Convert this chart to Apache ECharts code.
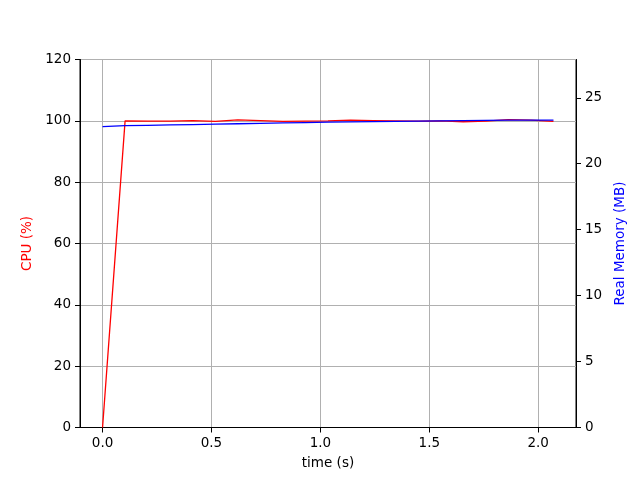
<!DOCTYPE html>
<html><head><meta charset="utf-8">
<script src="https://cdn.jsdelivr.net/npm/echarts@6/dist/echarts.min.js"></script>
<style>html,body{margin:0;padding:0;background:#fff}#c{width:640px;height:480px}</style>
</head><body><div id="c"></div>
<script>
const times = [0, 0.1035, 0.207, 0.3105, 0.414, 0.5175, 0.621, 0.7245, 0.828, 0.9315, 1.035, 1.1385, 1.242, 1.3455, 1.449, 1.5525, 1.656, 1.7595, 1.863, 1.9665, 2.07];
const cpu = [0, 100.0, 99.9, 99.9, 100.1, 99.8, 100.3, 100.1, 99.8, 99.9, 100.0, 100.2, 100.1, 100.0, 99.9, 100.0, 99.7, 99.9, 100.4, 100.2, 99.8];
const memory = [22.81, 22.88, 22.91, 22.94, 22.97, 23.0, 23.03, 23.06, 23.09, 23.12, 23.15, 23.17, 23.19, 23.21, 23.23, 23.25, 23.27, 23.29, 23.31, 23.31, 23.31];
const xTicks = [0, 0.5, 1.0, 1.5, 2.0];
const cpuTicks = [0, 20, 40, 60, 80, 100, 120];
const memTicks = [0, 5, 10, 15, 20, 25];

const font = 'DejaVu Sans';
const chart = echarts.init(document.getElementById('c'), null, {renderer: 'canvas'});
const tickStyle = {show: true, inside: false, length: 5, lineStyle: {color: '#000', width: 1}};
chart.setOption({
  animation: false,
  backgroundColor: '#fff',
  grid: {left: 80, right: 64, top: 59.5, bottom: 52.5, show: true, borderColor: '#000', borderWidth: 1, backgroundColor: 'transparent'},
  xAxis: {
    type: 'value', min: -0.1035, max: 2.1735,
    name: 'time (s)', nameLocation: 'middle', nameGap: 29,
    nameTextStyle: {fontFamily: font, fontSize: 13.5, color: '#000'},
    axisLine: {show: true, onZero: false, lineStyle: {color: '#000', width: 1}},
    axisTick: Object.assign({customValues: xTicks}, tickStyle),
    axisLabel: {customValues: xTicks, fontFamily: font, fontSize: 13.5, color: '#000', margin: 9,
      formatter: v => v.toFixed(1)},
    splitLine: {show: true, lineStyle: {color: '#b0b0b0', width: 1}}
  },
  yAxis: [{
    type: 'value', min: 0, max: 120, interval: 20, position: 'left',
    name: 'CPU (%)', nameLocation: 'middle', nameGap: 43,
    nameTextStyle: {fontFamily: font, fontSize: 13.5, color: '#ff0000'},
    axisLine: {show: true, onZero: false, lineStyle: {color: '#000', width: 1}},
    axisTick: Object.assign({customValues: cpuTicks}, tickStyle),
    axisLabel: {customValues: cpuTicks, fontFamily: font, fontSize: 13.5, color: '#000', margin: 9},
    splitLine: {show: true, lineStyle: {color: '#b0b0b0', width: 1}}
  }, {
    type: 'value', min: 0, max: 27.9, position: 'right',
    name: 'Real Memory (MB)', nameLocation: 'middle', nameGap: 32,
    nameTextStyle: {fontFamily: font, fontSize: 13.5, color: '#0000ff'},
    axisLine: {show: true, onZero: false, lineStyle: {color: '#000', width: 1}},
    axisTick: Object.assign({customValues: memTicks}, tickStyle),
    axisLabel: {customValues: memTicks, fontFamily: font, fontSize: 13.5, color: '#000', margin: 9},
    splitLine: {show: false}
  }],
  series: [{
    type: 'line', name: 'CPU', yAxisIndex: 0, showSymbol: false, symbol: 'none',
    data: times.map((t, i) => [t, cpu[i]]),
    lineStyle: {color: '#ff0000', width: 1.3}, itemStyle: {color: '#ff0000'}
  }, {
    type: 'line', name: 'Memory', yAxisIndex: 1, showSymbol: false, symbol: 'none',
    data: times.map((t, i) => [t, memory[i]]),
    lineStyle: {color: '#0000ff', width: 1.3}, itemStyle: {color: '#0000ff'}
  }]
});
</script></body></html>
